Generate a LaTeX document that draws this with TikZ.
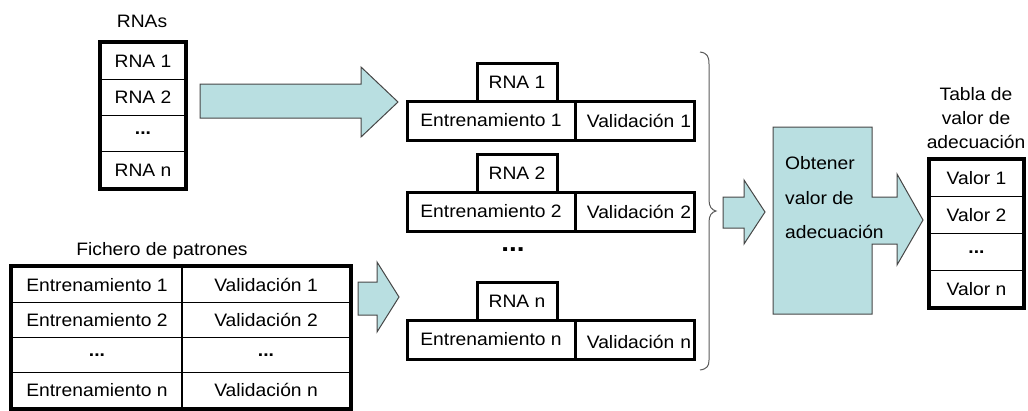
\documentclass[tikz,border=0pt]{standalone}
\usepackage{fontspec}
\setmainfont[FakeStretch=1.07]{Liberation Sans}
\definecolor{afill}{RGB}{185,223,225}
\definecolor{aline}{RGB}{70,70,70}
\definecolor{brc}{RGB}{90,90,90}
\begin{document}
\begin{tikzpicture}[x=1pt,y=-1pt,
  every node/.style={font=\fontsize{18}{22}\selectfont, inner sep=0pt},
  cell/.style={draw, line width=1.3pt, minimum height=36.25pt},
  fcell/.style={draw, line width=1.3pt, minimum height=35.25pt},
  vcell/.style={draw, line width=1.3pt, minimum height=36.75pt, minimum width=93pt},
  gbox/.style={draw, line width=3pt, minimum width=80pt, minimum height=38pt},
  gcell/.style={draw, line width=3pt, minimum height=39pt},
  outer/.style={draw, line width=4pt},
  blockarrow/.style={fill=afill, draw=aline, line width=1pt, line join=miter},
  brace/.style={draw=brc, line width=1pt},
  title/.style={align=center, font=\fontsize{18}{24}\selectfont}
]
\useasboundingbox (0,0) rectangle (1028,410);

% RNAs table
\node[title] (trnas) at (142,21) {RNAs};
\node[cell, minimum width=84pt] (r1) at (143,61.1) {RNA 1};
\node[cell, minimum width=84pt] (r2) at (143,97.4) {RNA 2};
\node[cell, minimum width=84pt] (r3) at (143,133.6) {\textbf{...}};
\node[cell, minimum width=84pt] (rn) at (143,169.9) {RNA n};
\draw[outer] (r1.north west) rectangle (rn.south east);

% Fichero de patrones
\node[title] (tfich) at (162,251) {Fichero de patrones};
\node[fcell, minimum width=170pt] (e1) at (97,284.6) {Entrenamiento 1};
\node[fcell, minimum width=168pt] (v1) at (266,284.6) {Validación 1};
\node[fcell, minimum width=170pt] (e2) at (97,319.9) {Entrenamiento 2};
\node[fcell, minimum width=168pt] (v2) at (266,319.9) {Validación 2};
\node[fcell, minimum width=170pt] (e3) at (97,355.1) {\textbf{...}};
\node[fcell, minimum width=168pt] (v3) at (266,355.1) {\textbf{...}};
\node[fcell, minimum width=170pt] (en) at (97,390.4) {Entrenamiento n};
\node[fcell, minimum width=168pt] (vn) at (266,390.4) {Validación n};
\draw[outer] (e1.north west) rectangle (vn.south east);

% middle groups
\node[gcell, minimum width=168pt] (ge1) at (491,120.5) {Entrenamiento 1};
\node[gcell, minimum width=119pt, text width=113pt, align=right] (gv1) at (634.5,120.5) {Validación 1};
\node[gbox] (gr1) at (517,82) {RNA 1};

\node[gcell, minimum width=168pt] (ge2) at (491,211.5) {Entrenamiento 2};
\node[gcell, minimum width=119pt, text width=113pt, align=right] (gv2) at (634.5,211.5) {Validación 2};
\node[gbox] (gr2) at (517,173) {RNA 2};

\node[font=\fontsize{26}{28}\selectfont] (gdots) at (513,250) {\textbf{...}};

\node[gcell, minimum width=168pt] (gen) at (491,339.5) {Entrenamiento n};
\node[gcell, minimum width=119pt, text width=113pt, align=right, text depth=0pt] (gvn) at (634.5,339.5) {\raisebox{-5pt}{Validación n}};
\node[gbox] (grn) at (517,301) {RNA n};

% block arrows
\draw[blockarrow] (200,84) -- (361,84) -- (361,67) -- (398,102) -- (361,137) -- (361,118) -- (200,118) -- cycle;
\draw[blockarrow] (358,282) -- (377,282) -- (377,262) -- (399,297) -- (377,332) -- (377,315) -- (358,315) -- cycle;
\draw[blockarrow] (723,197) -- (744,197) -- (744,180) -- (765,212) -- (744,244) -- (744,228) -- (723,228) -- cycle;

% brace
\draw[brace] (700,52) .. controls (707,53) and (709,56) .. (709,64) -- (709,200)
  .. controls (709,207) and (712,210) .. (716,211)
  .. controls (712,212) and (709,215) .. (709,222) -- (709,360)
  .. controls (709,366) and (707,369) .. (700,370);

% process block with arrow
\draw[blockarrow] (773,127) -- (872,127) -- (872,197) -- (897,197) -- (897,174) -- (923,220)
  -- (897,265) -- (897,244) -- (872,244) -- (872,314) -- (773,314) -- cycle;
\node[anchor=west, align=left, font=\fontsize{18}{34.5}\selectfont] (proc) at (785,198) {Obtener\\valor de\\adecuación};

% Tabla de valor de adecuación
\node[title] (ttab) at (976,118) {Tabla de\\valor de\\adecuación};
\node[vcell] (va1) at (976.5,178.4) {Valor 1};
\node[vcell] (va2) at (976.5,215.1) {Valor 2};
\node[vcell] (va3) at (976.5,251.9) {\textbf{...}};
\node[vcell] (van) at (976.5,288.6) {Valor n};
\draw[outer] (va1.north west) rectangle (van.south east);
\end{tikzpicture}
\end{document}
